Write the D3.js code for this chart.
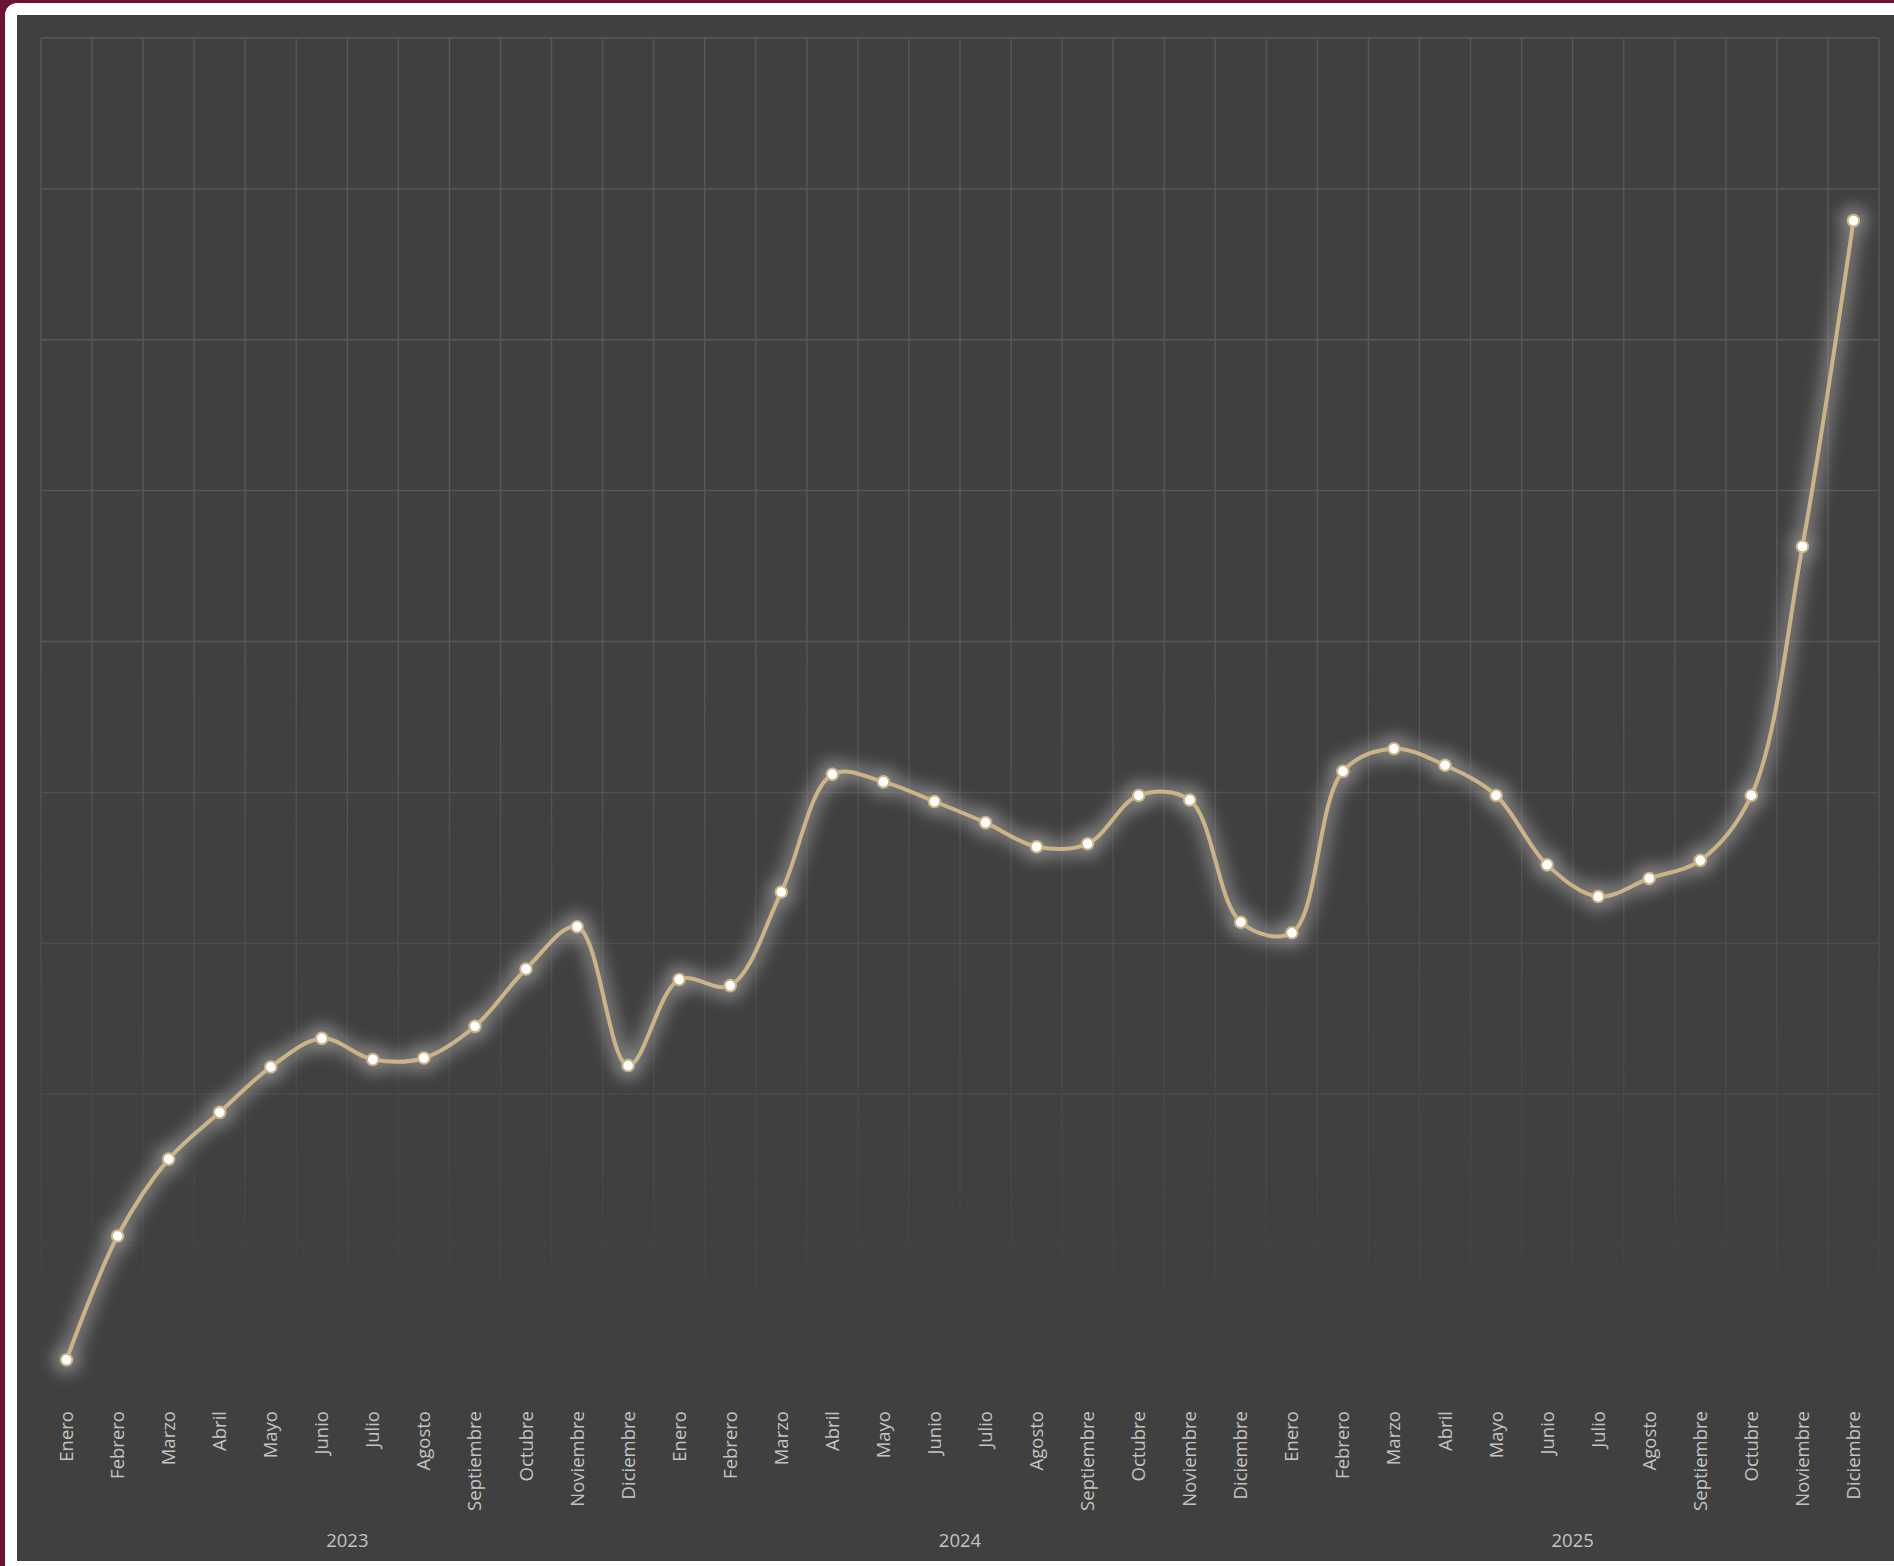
<!DOCTYPE html>
<html>
<head>
<meta charset="utf-8">
<script src="https://cdn.jsdelivr.net/npm/d3@7"></script>
<style>
	html, body { margin: 0; padding: 0; background: #6a1236; }
	svg { display: block; }
	.month-label, .year-label { font-family: "Open Sans", sans-serif; fill: #c4c4c4; }
</style>
</head>
<body>
<div id="chart"></div>
<script>
var months = ['Enero', 'Febrero', 'Marzo', 'Abril', 'Mayo', 'Junio', 'Julio', 'Agosto', 'Septiembre', 'Octubre', 'Noviembre', 'Diciembre'];
var years = ['2023', '2024', '2025'];
var values2023 = [2.4, 10.6, 15.7, 18.8, 21.8, 23.7, 22.3, 22.4, 24.5, 28.3, 31.1, 21.9];
var values2024 = [27.6, 27.2, 33.4, 41.2, 40.7, 39.4, 38.0, 36.4, 36.6, 39.8, 39.5, 31.4];
var values2025 = [30.7, 41.4, 42.9, 41.8, 39.8, 35.2, 33.1, 34.3, 35.5, 39.8, 56.3, 77.9];
var yTicks = [0, 10, 20, 30, 40, 50, 60, 70, 80, 90];

var chart = {
	width: 1894,
	height: 1566,
	plot: { left: 41, right: 1879, top: 38, bottom: 1396 },
	lineColor: '#cdb487'
};

chart.draw = function () {
	var data = [];
	[values2023, values2024, values2025].forEach(function (vals, yi) {
		vals.forEach(function (v, mi) {
			data.push({ year: years[yi], month: months[mi], value: v, index: yi * 12 + mi });
		});
	});

	var svg = d3.select('#chart').append('svg')
		.attr('width', chart.width)
		.attr('height', chart.height);

	var defs = svg.append('defs');

	// glow behind the series
	var glow = defs.append('filter')
		.attr('id', 'glow')
		.attr('filterUnits', 'userSpaceOnUse')
		.attr('x', 0).attr('y', 0)
		.attr('width', chart.width).attr('height', chart.height);
	glow.append('feGaussianBlur').attr('stdDeviation', 8);

	// gridlines fade out towards the bottom
	var fade = defs.append('linearGradient')
		.attr('id', 'fade')
		.attr('gradientUnits', 'userSpaceOnUse')
		.attr('x1', 0).attr('x2', 0)
		.attr('y1', 620).attr('y2', 1390);
	fade.append('stop').attr('offset', 0).attr('stop-color', '#fff');
	fade.append('stop').attr('offset', 1).attr('stop-color', '#000');
	defs.append('mask').attr('id', 'gridMask')
		.attr('maskUnits', 'userSpaceOnUse')
		.attr('x', 0).attr('y', 0).attr('width', chart.width).attr('height', chart.height)
		.append('rect')
		.attr('width', chart.width).attr('height', chart.height)
		.attr('fill', 'url(#fade)');

	// frame
	svg.append('rect')
		.attr('x', 5).attr('y', 3)
		.attr('width', chart.width + 20).attr('height', chart.height + 20)
		.attr('rx', 12)
		.attr('fill', '#ffffff');
	svg.append('rect')
		.attr('x', 17).attr('y', 15)
		.attr('width', chart.width - 17).attr('height', 1561 - 15)
		.attr('fill', '#404040');

	var x = d3.scaleBand()
		.domain(d3.range(data.length))
		.range([chart.plot.left, chart.plot.right]);
	var y = d3.scaleLinear()
		.domain([0, 90])
		.range([chart.plot.bottom, chart.plot.top]);
	var cx = function (d) { return x(d.index) + x.bandwidth() / 2; };

	var grid = svg.append('g')
		.attr('mask', 'url(#gridMask)')
		.attr('stroke', '#585858')
		.attr('stroke-width', 1.4);
	grid.selectAll('line.h')
		.data(yTicks)
		.enter().append('line')
		.attr('class', 'h')
		.attr('x1', chart.plot.left).attr('x2', chart.plot.right)
		.attr('y1', function (d) { return y(d); })
		.attr('y2', function (d) { return y(d); });
	grid.selectAll('line.v')
		.data(d3.range(data.length + 1))
		.enter().append('line')
		.attr('class', 'v')
		.attr('x1', function (i) { return chart.plot.left + i * x.step(); })
		.attr('x2', function (i) { return chart.plot.left + i * x.step(); })
		.attr('y1', chart.plot.top).attr('y2', chart.plot.bottom);

	var line = d3.line()
		.x(cx)
		.y(function (d) { return y(d.value); })
		.curve(d3.curveCatmullRom.alpha(0.5));

	var glowG = svg.append('g')
		.attr('filter', 'url(#glow)')
		.attr('opacity', 0.5);
	glowG.append('path')
		.datum(data)
		.attr('d', line)
		.attr('fill', 'none')
		.attr('stroke', '#b4b4b4')
		.attr('stroke-width', 18)
		.attr('stroke-linecap', 'round');
	glowG.selectAll('circle')
		.data(data)
		.enter().append('circle')
		.attr('cx', cx)
		.attr('cy', function (d) { return y(d.value); })
		.attr('r', 14)
		.attr('fill', '#c8c8c8');

	svg.append('path')
		.datum(data)
		.attr('d', line)
		.attr('fill', 'none')
		.attr('stroke', chart.lineColor)
		.attr('stroke-width', 4);

	svg.selectAll('circle.marker')
		.data(data)
		.enter().append('circle')
		.attr('class', 'marker')
		.attr('cx', cx)
		.attr('cy', function (d) { return y(d.value); })
		.attr('r', 5.8)
		.attr('fill', '#ffffff')
		.attr('stroke', chart.lineColor)
		.attr('stroke-width', 2);

	// category labels
	svg.selectAll('text.month-label')
		.data(data)
		.enter().append('text')
		.attr('class', 'month-label')
		.attr('transform', function (d) { return 'translate(' + cx(d) + ',1411) rotate(-90)'; })
		.attr('text-anchor', 'end')
		.attr('dy', '0.35em')
		.style('font-size', '18.5px')
		.text(function (d) { return d.month; });

	svg.selectAll('text.year-label')
		.data(years)
		.enter().append('text')
		.attr('class', 'year-label')
		.attr('x', function (d, i) { return chart.plot.left + (i * 12 + 6) * x.step(); })
		.attr('y', 1547)
		.attr('text-anchor', 'middle')
		.style('font-size', '18.5px')
		.text(function (d) { return d; });
}

chart.draw();
</script>
</body>
</html>
